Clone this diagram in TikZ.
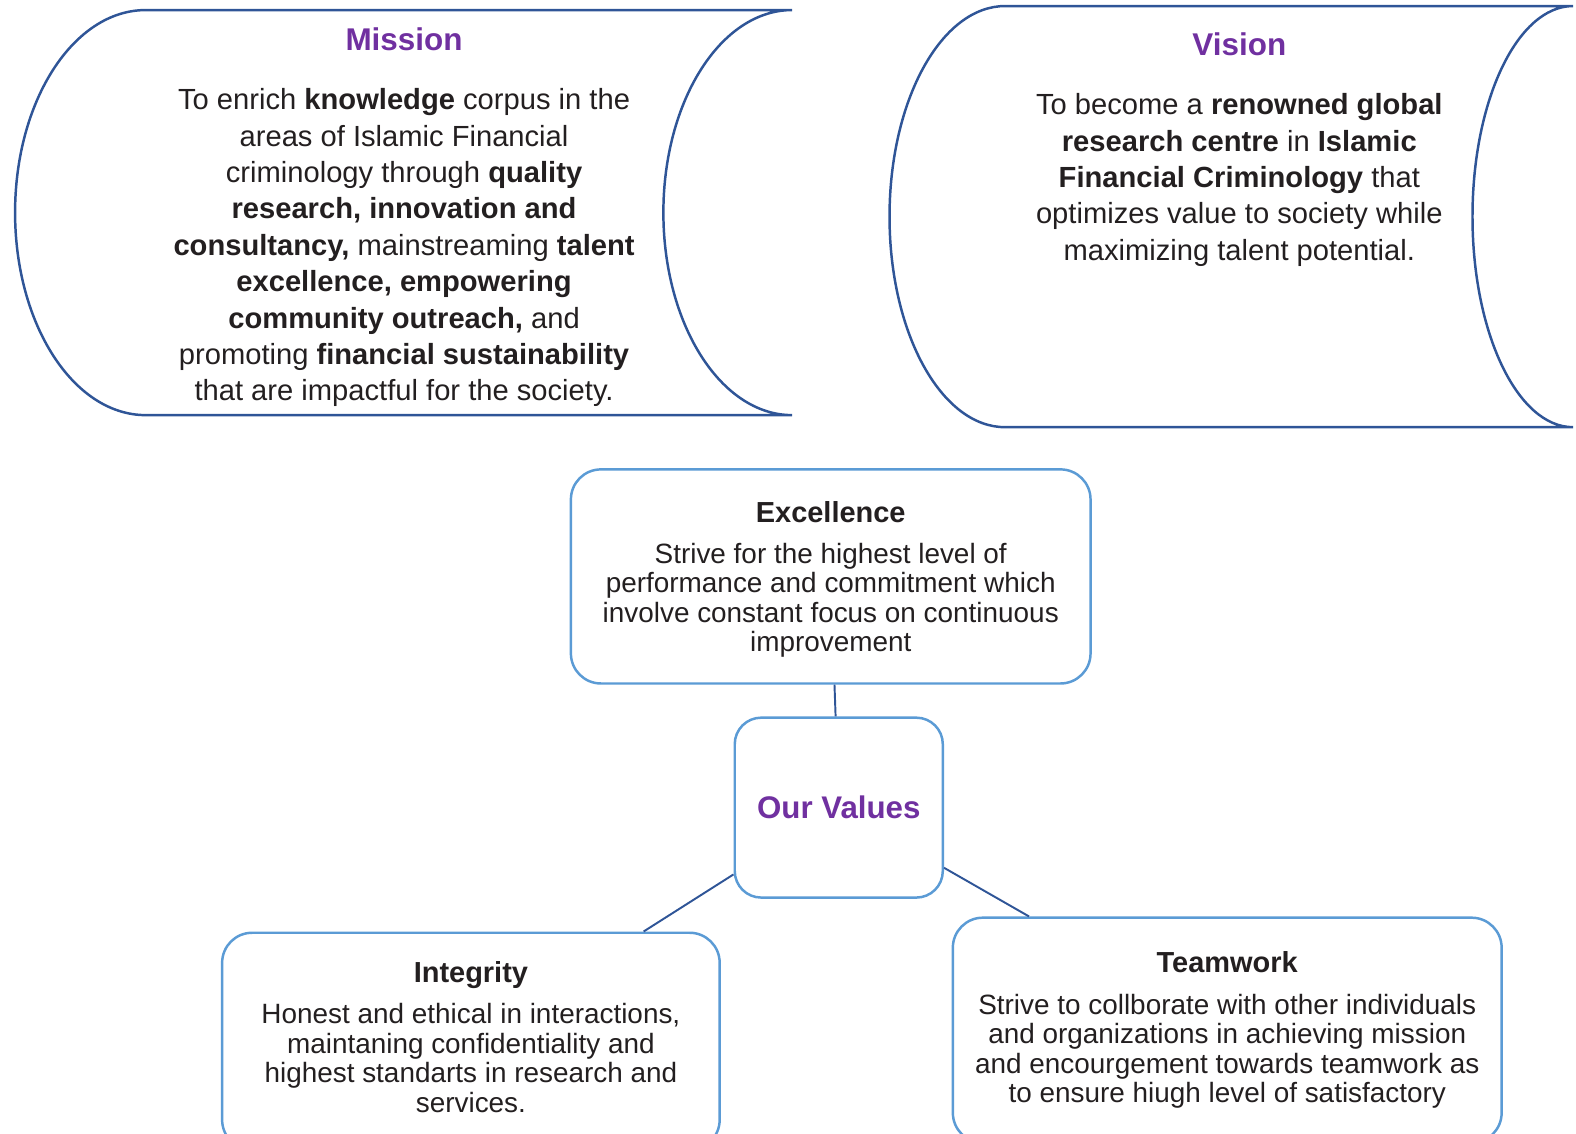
\documentclass[tikz,border=0pt]{standalone}
\usepackage{fontspec}
\setmainfont{Liberation Sans}
\usepackage{xcolor}
\usepackage{tikz}
\definecolor{scrollblue}{HTML}{2F5597}
\definecolor{boxblue}{HTML}{5B9BD5}
\definecolor{titlepurple}{HTML}{7030A0}
\definecolor{textgray}{HTML}{231F20}

\begin{document}
\begin{tikzpicture}[
    scroll/.style={draw=scrollblue, line width=1.4pt},
    link/.style={draw=scrollblue, line width=1.1pt},
    headline/.style={text=titlepurple, font=\fontsize{17.8pt}{20pt}\selectfont\bfseries},
    bodytext/.style={text=textgray, align=center, font=\fontsize{16.5pt}{20.6pt}\selectfont},
    valuebox/.style={draw=boxblue, fill=white, line width=1.4pt, rounded corners=17pt,
        align=center, text=textgray, font=\fontsize{15.8pt}{16.75pt}\selectfont}
]
  \clip (0,0) rectangle (31.36,-22.56);

  % Mission scroll
  \draw[scroll] (2.9,-0.2) -- (15.76,-0.2)
    arc[start angle=90, end angle=270, x radius=2.56cm, y radius=4.03cm]
    -- (2.9,-8.26)
    arc[start angle=270, end angle=90, x radius=2.6cm, y radius=4.03cm] -- cycle;
  \node[headline] (missiontitle) at (8.04,-0.78) {Mission};
  \node[bodytext] (missiontext) at (8.04,-4.93) {To enrich \textbf{knowledge} corpus in the\\
    areas of Islamic Financial\\
    criminology through \textbf{quality}\\
    \textbf{research, innovation and}\\
    \textbf{consultancy,} mainstreaming \textbf{talent}\\
    \textbf{excellence, empowering}\\
    \textbf{community outreach,} and\\
    promoting \textbf{financial sustainability}\\
    that are impactful for the society.};

  % Vision scroll (cut at the right edge)
  \draw[scroll] (20.0,-0.12) -- (31.3,-0.12)
    arc[start angle=90, end angle=270, x radius=2.0cm, y radius=4.19cm]
    -- (20.0,-8.5)
    arc[start angle=270, end angle=90, x radius=2.3cm, y radius=4.19cm] -- cycle;
  \node[headline] (visiontitle) at (24.66,-0.88) {Vision};
  \node[bodytext] (visiontext) at (24.66,-3.58) {To become a \textbf{renowned global}\\
    \textbf{research centre} in \textbf{Islamic}\\
    \textbf{Financial Criminology} that\\
    optimizes value to society while\\
    maximizing talent potential.};

  % Values
  \node[valuebox, minimum width=10.34cm, minimum height=4.26cm] (excellence) at (16.53,-11.47) {};
  \node[align=center, text=textgray, font=\fontsize{15.8pt}{16.75pt}\selectfont] (excellencetext) at (16.53,-11.53)
    {{\fontsize{16.4pt}{16.4pt}\selectfont\bfseries Excellence}\\[6.5pt]
     Strive for the highest level of\\
     performance and commitment which\\
     involve constant focus on continuous\\
     improvement};
  \node[valuebox, rounded corners=15pt, minimum width=4.14cm, minimum height=3.58cm,
        text=titlepurple, font=\fontsize{17.7pt}{20pt}\selectfont\bfseries] (values) at (16.69,-16.07) {Our Values};
  \node[valuebox, minimum width=9.9cm, minimum height=4.32cm] (integrity) at (9.37,-20.72) {};
  \node[align=center, text=textgray, font=\fontsize{15.8pt}{16.75pt}\selectfont] (integritytext) at (9.37,-20.64)
    {{\fontsize{16.4pt}{16.4pt}\selectfont\bfseries Integrity}\\[6.5pt]
     Honest and ethical in interactions,\\
     maintaning confidentiality and\\
     highest standarts in research and\\
     services.};
  \node[valuebox, minimum width=10.92cm, minimum height=4.48cm] (teamwork) at (24.42,-20.5)
    {{\fontsize{16.4pt}{16.4pt}\selectfont\bfseries Teamwork}\\[6.5pt]
     Strive to collborate with other individuals\\
     and organizations in achieving mission\\
     and encourgement towards teamwork as\\
     to ensure hiugh level of satisfactory};

  % Connectors
  \draw[link] (excellence) -- (values);
  \draw[link] (values) -- (integrity);
  \draw[link] (values) -- (teamwork);

\end{tikzpicture}
\end{document}
